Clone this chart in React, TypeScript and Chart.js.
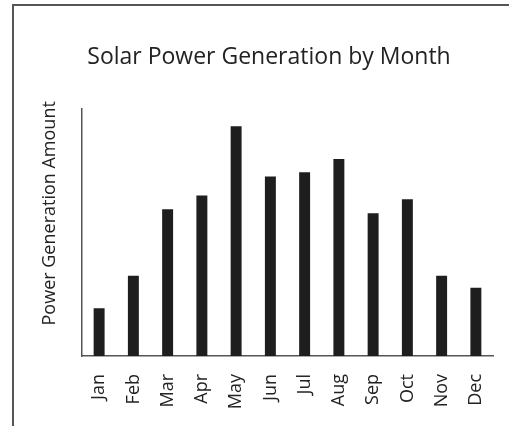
import React, { useEffect, useRef } from "react";
import { Chart, registerables } from "chart.js";

Chart.register(...registerables);

const months = ["Jan", "Feb", "Mar", "Apr", "May", "Jun", "Jul", "Aug", "Sep", "Oct", "Nov", "Dec"];
const generation = [19.3, 32.4, 59.3, 64.9, 92.9, 72.6, 74.3, 79.6, 57.7, 63.4, 32.4, 27.6];
const yMax = 100;
const titleText = "Solar Power Generation by Month";
const yAxisTitle = "Power Generation Amount";

const FONT = "'Open Sans', 'Noto Sans', sans-serif";

const yTitlePlugin = {
  id: "yTitlePlugin",
  afterDraw(chart: any) {
    const ctx = chart.ctx;
    const area = chart.chartArea;
    ctx.save();
    ctx.fillStyle = "#222";
    ctx.font = `18px ${FONT}`;
    ctx.textAlign = "center";
    ctx.textBaseline = "middle";
    ctx.translate(area.left - 32, (area.top + area.bottom) / 2 - 19);
    ctx.rotate(-Math.PI / 2);
    ctx.fillText(yAxisTitle, 0, 0);
    ctx.restore();
  },
};

export default function App() {
  const ref = useRef<HTMLCanvasElement | null>(null);

  useEffect(() => {
    document.body.style.margin = "0";
    document.body.style.overflow = "hidden";
    document.documentElement.style.overflow = "hidden";
    const canvas = ref.current;
    if (!canvas) return;
    const chart = new Chart(canvas, {
      type: "bar",
      data: {
        labels: months,
        datasets: [
          {
            data: generation,
            backgroundColor: "#1e1e1e",
            borderWidth: 0,
            barPercentage: 0.32,
            categoryPercentage: 1,
          },
        ],
      },
      plugins: [yTitlePlugin],
      options: {
        responsive: false,
        animation: false,
        layout: { padding: { left: 45, right: 16, top: 0, bottom: 0 } },
        plugins: {
          legend: { display: false },
          tooltip: { enabled: false },
          title: {
            display: true,
            text: titleText,
            color: "#222",
            font: { family: FONT, size: 23, weight: "normal" },
            padding: { top: 44, bottom: 37 },
          },
        },
        scales: {
          x: {
            grid: { display: false },
            border: { display: true, color: "#555", width: 1.5 },
            ticks: {
              color: "#222",
              font: { family: FONT, size: 18 },
              minRotation: 90,
              maxRotation: 90,
              padding: 10,
            },
            afterFit: (scale: any) => {
              scale.height = 70;
            },
          },
          y: {
            min: 0,
            max: yMax,
            grid: { display: false },
            border: { display: true, color: "#555", width: 1.5 },
            ticks: { display: false },
            afterFit: (scale: any) => {
              scale.width = 37;
            },
          },
        },
      },
    });
    return () => chart.destroy();
  }, []);

  return (
    <div style={{ position: "relative", width: 509, height: 426, background: "#fff", overflow: "hidden" }}>
      <div
        style={{
          position: "absolute",
          left: 12,
          top: 4,
          width: 520,
          height: 440,
          borderLeft: "2px solid #555",
          borderTop: "2px solid #555",
        }}
      />
      <canvas ref={ref} width={509} height={426} style={{ position: "absolute", left: 0, top: 0 }} />
    </div>
  );
}
